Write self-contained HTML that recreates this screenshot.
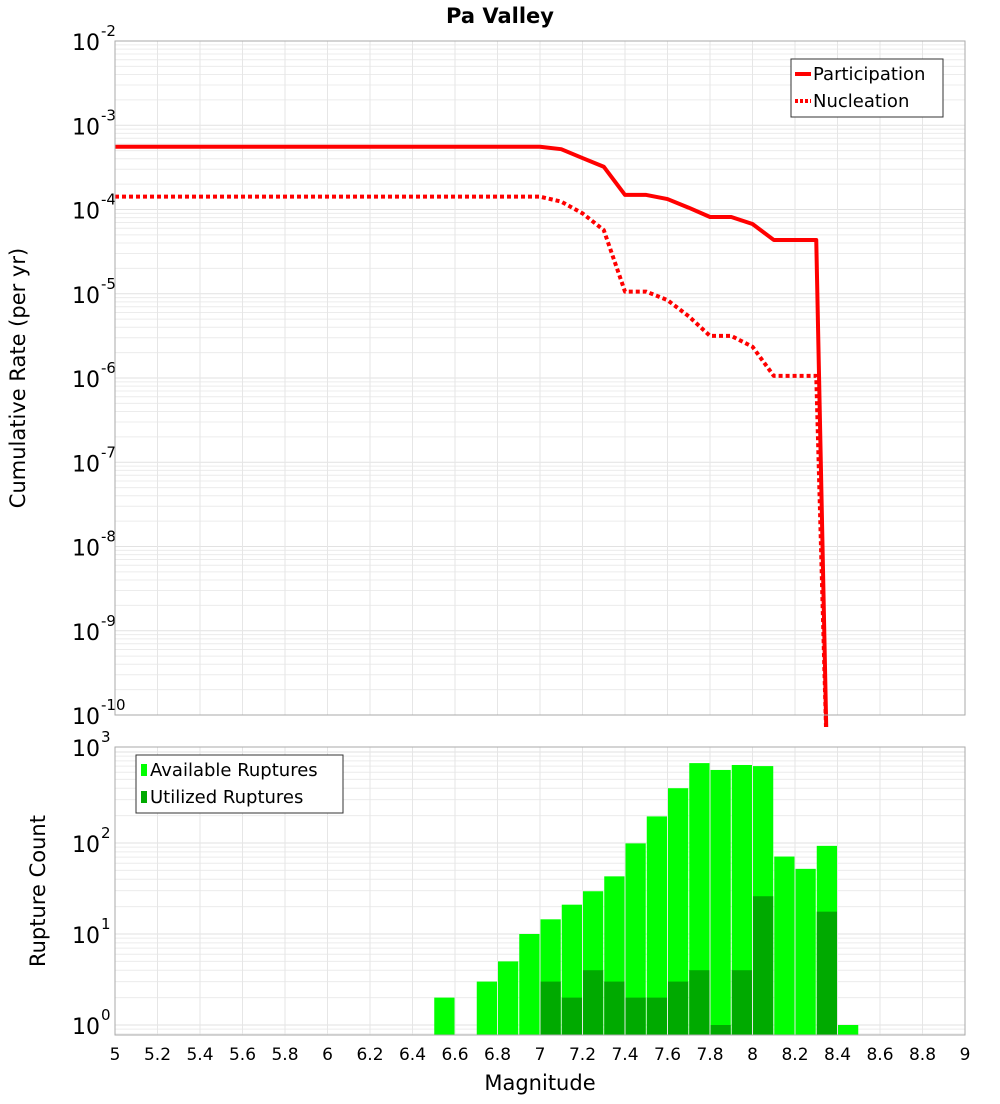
<!DOCTYPE html>
<html><head><meta charset="utf-8"><style>
body{margin:0;background:#fff;font-family:"DejaVu Sans","Liberation Sans",sans-serif}
svg text{font-family:"DejaVu Sans","Liberation Sans",sans-serif}
</style></head><body>
<svg id="c" width="1000" height="1100" viewBox="0 0 1000 1100" xmlns="http://www.w3.org/2000/svg">
<rect width="1000" height="1100" fill="#fff"/>
<text x="500" y="23" text-anchor="middle" font-size="21" font-weight="bold">Pa Valley</text>
<g id="gtop"></g>
<g id="gbot"></g>
<text transform="translate(25,378) rotate(-90)" text-anchor="middle" font-size="21">Cumulative Rate (per yr)</text>
<text transform="translate(45,891) rotate(-90)" text-anchor="middle" font-size="21">Rupture Count</text>
<text x="540" y="1090" text-anchor="middle" font-size="21">Magnitude</text>
</svg>
<script>
const partMags=[5,7.0,7.1,7.2,7.3,7.4,7.5,7.6,7.7,7.8,7.9,8.0,8.1,8.2,8.3,8.35];
const partRates=[5.56e-4,5.56e-4,5.2e-4,4.08e-4,3.22e-4,1.49e-4,1.49e-4,1.33e-4,1.05e-4,8.15e-5,8.15e-5,6.73e-5,4.35e-5,4.35e-5,4.35e-5,3e-11];
const nuclMags=[5,7.0,7.1,7.2,7.3,7.4,7.5,7.6,7.7,7.8,7.9,8.0,8.1,8.2,8.3,8.35];
const nuclRates=[1.42e-4,1.42e-4,1.24e-4,9.0e-5,5.7e-5,1.06e-5,1.06e-5,8.4e-6,5.4e-6,3.16e-6,3.16e-6,2.35e-6,1.06e-6,1.06e-6,1.06e-6,3e-11];
const binStarts=[6.5,6.6,6.7,6.8,6.9,7.0,7.1,7.2,7.3,7.4,7.5,7.6,7.7,7.8,7.9,8.0,8.1,8.2,8.3,8.4];
const availCounts=[2,0,3,5,10,14.5,21,29.5,43,99,196,400,755,635,720,700,71,52,93,1];
const usedCounts=[0,0,0,0,0,3,2,4,3,2,2,3,4,1,4,26,0,0,17.6,0];
const xTicks=["5","5.2","5.4","5.6","5.8","6","6.2","6.4","6.6","6.8","7","7.2","7.4","7.6","7.8","8","8.2","8.4","8.6","8.8","9"];
const topExps=[-2,-3,-4,-5,-6,-7,-8,-9,-10];
const botExps=[3,2,1,0];

const NS="http://www.w3.org/2000/svg";
const L=115,R=965;
const X=m=>L+(m-5)/4*(R-L);
const T0=41,T1=715;
const Yt=v=>T0+(-2-Math.log10(v))*(T1-T0)/8;
const B0=747,B1=1035;
const Yb=v=>1025-Math.log10(v)*91;
function mk(p,tag,a){const e=document.createElementNS(NS,tag);for(const k in a)e.setAttribute(k,a[k]);p.appendChild(e);return e;}
const gTop=document.getElementById('gtop'),gBot=document.getElementById('gbot'),svgEl=document.getElementById('c');

const defs=mk(svgEl,'defs',{});
const c1=mk(defs,'clipPath',{id:'ct'});mk(c1,'rect',{x:L,y:T0,width:R-L,height:T1-T0+12});
const c2=mk(defs,'clipPath',{id:'cb'});mk(c2,'rect',{x:L,y:B0,width:R-L,height:B1-B0});

function grid(g,y0,y1,yf,dmin,dmax){
  for(let d=dmin;d<dmax;d++)for(let k=1;k<10;k++){const y=yf(k*Math.pow(10,d));if(y<y0||y>y1)continue;
    const ln=mk(g,'line',{x1:L,x2:R,y1:y,y2:y,stroke:k==1?'#e2e2e2':'#ececec','stroke-width':1});
    
    }
  xTicks.forEach(t=>{const x=X(+t);const ln=mk(g,'line',{x1:x,x2:x,y1:y0,y2:y1,stroke:'#e6e6e6'});
    
    });
}
grid(gTop,T0,T1,Yt,-11,-1);
grid(gBot,B0,B1,Yb,-1,4);

function poly(g,ms,vs,dash){
  const pts=ms.map((m,i)=>X(m)+','+Yt(vs[i])).join(' ');
  const a={points:pts,fill:'none',stroke:'#ff0000','stroke-width':4,'stroke-linejoin':'round','clip-path':'url(#ct)'};
  if(dash)a['stroke-dasharray']='4,3';
  return mk(g,'polyline',a);
}
const p1=poly(gTop,partMags,partRates,false);


const p2=poly(gTop,nuclMags,nuclRates,true);



const bw=(R-L)/40;
binStarts.forEach((m,i)=>{
  const x=X(m)+0.5,w=bw-1;
  if(availCounts[i]>0){const y=Yb(availCounts[i]);const r=mk(gBot,'rect',{x:x,y:y,width:w,height:B1-y,fill:'#00ff00','clip-path':'url(#cb)'});
    
    }
  if(usedCounts[i]>0){const y=Yb(usedCounts[i]);const r=mk(gBot,'rect',{x:x,y:y,width:w,height:B1-y,fill:'#00aa00','clip-path':'url(#cb)'});
    
    }
});

[[T0,T1],[B0,B1]].forEach(([a,b])=>{const r=mk(svgEl,'rect',{x:L,y:a,width:R-L,height:b-a,fill:'none',stroke:'#aaa'});
  
  });

function ylabel(g,y,e){
  const t=mk(g,'text',{x:100,y:y+9,'text-anchor':'end','font-size':22});t.textContent='10';
  
  
  const s=mk(g,'text',{x:101,y:y-5,'font-size':15});s.textContent=String(e);
  
  
}
topExps.forEach(e=>ylabel(gTop,Yt(Math.pow(10,e)),e));
botExps.forEach(e=>ylabel(gBot,Yb(Math.pow(10,e))+(e==3?-5:0),e));

xTicks.forEach(t=>{const tx=mk(svgEl,'text',{x:X(+t),y:1060,'text-anchor':'middle','font-size':17});tx.textContent=t;
  
  });

function legend(x,y,w,items){
  const g=mk(svgEl,'g',{});
  
  
  mk(g,'rect',{x:x,y:y,width:w,height:58,fill:'#fff',stroke:'#333'});
  items.forEach((it,i)=>{const yy=y+15+i*27;
    if(it.type=='line'){const a={x1:x+4,x2:x+20,y1:yy,y2:yy,stroke:'#f00','stroke-width':4};if(it.dash)a['stroke-dasharray']='3,2';mk(g,'line',a);}
    else mk(g,'rect',{x:x+5,y:yy-6,width:6,height:12,fill:it.c});
    const t=mk(g,'text',{x:x+(it.type=='line'?22:14),y:yy+6,'font-size':18});t.textContent=it.label;
    
    
  });
}
legend(791,59,152,[{type:'line',label:'Participation'},{type:'line',dash:1,label:'Nucleation'}]);
legend(136,755,207,[{type:'box',c:'#00ff00',label:'Available Ruptures'},{type:'box',c:'#00aa00',label:'Utilized Ruptures'}]);
</script>
</body></html>
